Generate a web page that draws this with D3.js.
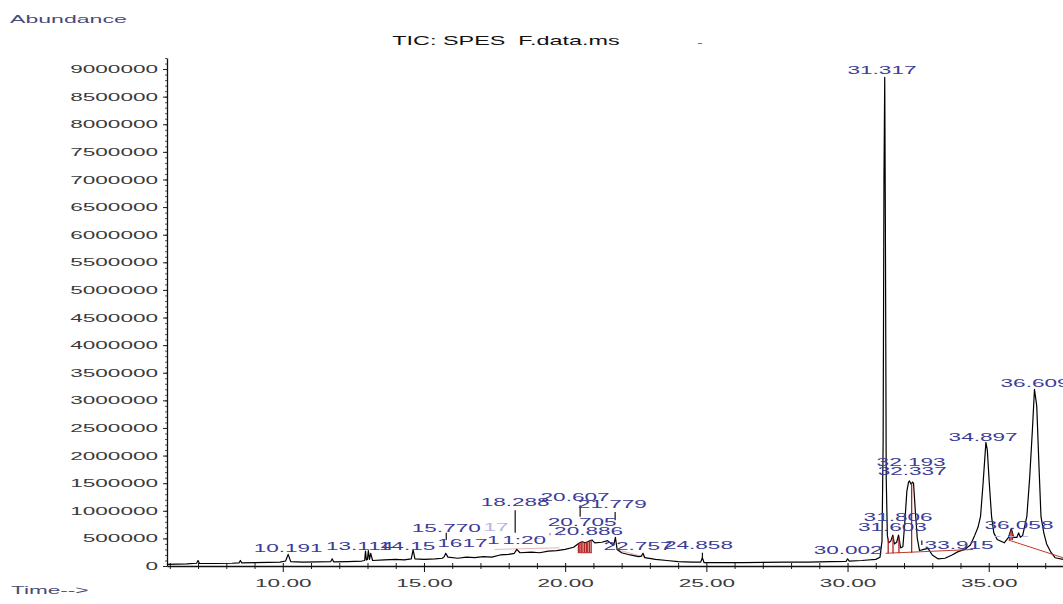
<!DOCTYPE html>
<html>
<head>
<meta charset="utf-8">
<script src="https://cdn.jsdelivr.net/npm/d3@7"></script>
<style>
  body { margin: 0; background: #fff; }
  svg { display: block; }
  text { white-space: pre; }
</style>
</head>
<body>
<svg id="chart" width="1063" height="604"></svg>
<script>

var title = 'TIC: SPES  F.data.ms';
var yTicks = d3.range(0, 9000001, 500000);
var yMinor = d3.range(0, 9200001, 100000);
var xTicks = [10, 15, 20, 25, 30, 35];
var xMinor = d3.range(6, 38).filter(function (d) { return d % 5 !== 0; });

// chromatogram (minutes, abundance)
var traceTime = [
    5.9, 6.6, 6.95, 7.0, 7.05, 7.6, 8.2, 8.45, 8.5, 8.55, 9.0, 9.5, 9.9, 10.1, 10.191, 10.28,
    10.7, 11.2, 11.7, 11.75, 11.8, 12.3, 12.8, 12.9, 12.93, 12.96, 13.0, 13.03, 13.07, 13.114, 13.18,
    13.6, 14.0, 14.3, 14.55, 14.615, 14.68, 15.0, 15.4, 15.65, 15.72, 15.77, 15.85, 16.2, 16.5,
    16.8, 17.1, 17.4, 17.7, 18.0, 18.2, 18.288, 18.4, 18.8, 19.1, 19.4, 19.7, 20.0, 20.3, 20.45,
    20.55, 20.607, 20.7, 20.8, 20.886, 20.95, 21.05, 21.3, 21.5, 21.65, 21.72, 21.779, 21.84, 22.0,
    22.3, 22.6, 22.7, 22.757, 22.82, 23.2, 23.6, 24.0, 24.5, 24.8, 24.858, 24.92, 25.5, 26.3, 27.0,
    27.8, 28.6, 29.4, 29.95, 30.002, 30.06, 30.5, 31.0, 31.15, 31.22, 31.26, 31.29, 31.317, 31.34,
    31.37, 31.41, 31.46, 31.53, 31.603, 31.66, 31.74, 31.806, 31.88, 31.96, 32.03, 32.1, 32.16,
    32.193, 32.25, 32.3, 32.337, 32.4, 32.47, 32.55, 32.7, 32.85, 33.0, 33.2, 33.45, 33.7, 33.915,
    34.15, 34.35, 34.5, 34.62, 34.71, 34.8, 34.9, 34.95, 35.02, 35.1, 35.18, 35.3, 35.55, 35.7,
    35.8, 35.88, 36.0, 36.058, 36.12, 36.2, 36.35, 36.45, 36.55, 36.62, 36.7, 36.78, 36.85, 36.95,
    37.05, 37.2, 37.35, 37.63
];
var traceAbund = [
    30000, 40000, 50000, 100000, 45000, 45000, 50000, 55000, 100000, 55000, 60000, 65000, 70000, 90000, 210000, 80000,
    70000, 75000, 80000, 130000, 75000, 80000, 90000, 100000, 270000, 110000, 120000, 280000, 120000, 230000, 100000,
    110000, 120000, 110000, 130000, 290000, 130000, 120000, 130000, 140000, 170000, 230000, 160000, 140000, 160000,
    150000, 170000, 160000, 200000, 210000, 230000, 300000, 240000, 250000, 240000, 270000, 280000, 300000, 340000, 400000,
    430000, 440000, 420000, 440000, 460000, 470000, 420000, 430000, 460000, 400000, 380000, 520000, 300000, 240000,
    200000, 170000, 180000, 230000, 150000, 120000, 100000, 80000, 70000, 70000, 150000, 60000, 60000, 60000, 65000,
    70000, 70000, 80000, 85000, 130000, 90000, 100000, 120000, 160000, 450000, 2200000, 7000000, 8850000, 6200000,
    1600000, 550000, 420000, 450000, 560000, 400000, 430000, 560000, 330000, 350000, 800000, 1350000, 1520000,
    1540000, 1480000, 1520000, 1500000, 1000000, 500000, 280000, 300000, 320000, 200000, 130000, 140000, 200000, 260000,
    300000, 380000, 550000, 700000, 900000, 1500000, 2240000, 2100000, 1500000, 900000, 600000, 480000, 420000, 520000,
    680000, 520000, 520000, 600000, 520000, 550000, 900000, 1600000, 2500000, 3200000, 2900000, 1800000, 900000, 600000,
    400000, 250000, 150000, 120000
];

// peak labels: text, where it is centred (minutes) and the abundance of its baseline
var labelText = ['10.191', '13.114', '14.15', '15.770', '1617', '1', '1:20', '18.288', '20.607', '21.779',
    '20.705', '20.886', '22.757', '24.858', '30.002', '31.317', '32.193', '32.337', '31.806', '31.603',
    '33.915', '34.897', '36.058', '36.609'];
var labelTime = [10.19, 12.72, 14.4, 15.79, 16.36, 17.45, 18.55, 18.23, 20.35, 21.67,
    20.6, 20.83, 22.58, 24.72, 30.02, 31.22, 32.25, 32.29, 31.79, 31.59,
    33.95, 34.8, 36.07, 36.64];
var labelLevel = [250000, 290000, 290000, 620000, 340000, 390000, 390000, 1090000, 1180000, 1050000,
    720000, 560000, 290000, 310000, 220000, 8910000, 1810000, 1650000, 810000, 630000,
    310000, 2260000, 670000, 3240000];

var faintText = ['17', '- \' \'', '- - -'];
var faintTime = [17.55, 19.4, 35.8];
var faintLevel = [640000, 460000, 490000];

// leader lines from a label down to its peak
var leaderTime = [15.79, 18.23, 20.53, 21.77, 24.86, 32.63];
var leaderTop = [600000, 1010000, 1100000, 980000, 240000, 460000];
var leaderBottom = [470000, 600000, 890000, 830000, 150000, 380000];

// integration marks (red)
var dropTime = [20.47, 20.52, 20.57, 20.63, 20.69, 20.75, 20.8, 20.86, 20.92, 31.44, 31.61, 31.82, 32.27, 35.74, 35.79, 35.84];
var dropBase = [240000, 240000, 240000, 240000, 240000, 240000, 240000, 240000, 240000, 230000, 230000, 235000, 240000, 470000, 470000, 470000];
var baseStart = [[20.45, 240000], [31.35, 230000], [35.7, 470000]];
var baseEnd = [[20.95, 240000], [34.45, 300000], [37.63, 150000]];
var paleStart = [[17.5, 300000], [21.8, 300000]];
var paleEnd = [[19.8, 330000], [22.9, 150000]];

var svg = d3.select('#chart');
var x = d3.scaleLinear().domain([5.9, 37.63]).range([167, 1063]);
var y = d3.scaleLinear().domain([0, 9200000]).range([566, 58]);

var fontFamily = '"Liberation Sans", Arial, sans-serif';
var stretchX = 2.05;

function stretch(sel, sx) {
    sel.each(function () {
        var t = d3.select(this);
        var px = +t.attr('x') || 0, py = +t.attr('y') || 0;
        t.attr('x', null).attr('y', null)
            .attr('transform', 'translate(' + px + ',' + py + ') scale(' + sx + ',1)');
    });
}

function addText(str, px, py, anchor, color, size, sx) {
    svg.append('text')
        .attr('x', px).attr('y', py)
        .attr('text-anchor', anchor)
        .attr('fill', color)
        .style('font-family', fontFamily)
        .style('font-size', size + 'px')
        .text(str)
        .call(stretch, sx);
}

// headings
addText('Abundance', 10, 23, 'start', '#4a4a78', 11, 2.1);
addText('Time-->', 11, 594, 'start', '#4a4a78', 11, 2.05);
addText(title, 506, 45, 'middle', '#111', 12, 1.95);
addText('-', 700, 46, 'middle', '#666', 11, 1.5);

// y axis
svg.append('g').attr('transform', 'translate(167,0)')
    .call(d3.axisLeft(y).tickValues(yMinor).tickSize(2).tickFormat(''))
    .call(function (g) { g.select('.domain').remove(); })
    .selectAll('line').attr('stroke', '#555');

var yAxis = svg.append('g').attr('transform', 'translate(167,0)')
    .call(d3.axisLeft(y).tickValues(yTicks).tickSize(4).tickSizeOuter(0).tickFormat(d3.format('d')));
yAxis.select('.domain').attr('stroke', '#111').attr('stroke-width', 1.3);
yAxis.selectAll('line').attr('stroke', '#222');
yAxis.selectAll('text')
    .attr('x', -9)
    .attr('fill', '#3a3a3a')
    .style('font-family', fontFamily)
    .style('font-size', '11px')
    .call(stretch, stretchX);

// x axis
var xMinorAxis = svg.append('g').attr('transform', 'translate(0,566)')
    .call(d3.axisBottom(x).tickValues(xMinor).tickSize(3).tickFormat(''));
xMinorAxis.select('.domain').remove();
xMinorAxis.selectAll('line').attr('y1', -3).attr('stroke', '#222');

var xAxis = svg.append('g').attr('transform', 'translate(0,566)')
    .call(d3.axisBottom(x).tickValues(xTicks).tickSize(6).tickSizeOuter(0).tickFormat(d3.format('.2f')));
xAxis.select('.domain').attr('stroke', '#111').attr('stroke-width', 1.3);
xAxis.selectAll('line').attr('y1', -3).attr('stroke', '#111');
xAxis.selectAll('text')
    .attr('y', 13)
    .attr('fill', '#3a3a3a')
    .style('font-family', fontFamily)
    .style('font-size', '11px')
    .call(stretch, stretchX);

// pale baseline pieces
svg.append('g').selectAll('line')
    .data(d3.zip(paleStart, paleEnd))
    .join('line')
    .attr('x1', function (d) { return x(d[0][0]); })
    .attr('y1', function (d) { return y(d[0][1]); })
    .attr('x2', function (d) { return x(d[1][0]); })
    .attr('y2', function (d) { return y(d[1][1]); })
    .attr('stroke', '#e7b4b4')
    .attr('stroke-width', 1);

// trace
var line = d3.line()
    .x(function (d) { return x(d[0]); })
    .y(function (d) { return y(d[1]); });

svg.append('path')
    .datum(d3.zip(traceTime, traceAbund))
    .attr('d', line)
    .attr('fill', 'none')
    .attr('stroke', '#000')
    .attr('stroke-width', 1.2)
    .attr('stroke-linejoin', 'round');

function traceAt(t) {
    var i = d3.bisectLeft(traceTime, t);
    if (i <= 0) return traceAbund[0];
    if (i >= traceTime.length) return traceAbund[traceTime.length - 1];
    var t0 = traceTime[i - 1], t1 = traceTime[i];
    return traceAbund[i - 1] + (traceAbund[i] - traceAbund[i - 1]) * (t - t0) / (t1 - t0);
}

// integration baselines and drops
svg.append('g').selectAll('line')
    .data(d3.zip(baseStart, baseEnd))
    .join('line')
    .attr('x1', function (d) { return x(d[0][0]); })
    .attr('y1', function (d) { return y(d[0][1]); })
    .attr('x2', function (d) { return x(d[1][0]); })
    .attr('y2', function (d) { return y(d[1][1]); })
    .attr('stroke', '#c0392b')
    .attr('stroke-width', 1);

svg.append('g').selectAll('line')
    .data(d3.zip(dropTime, dropBase))
    .join('line')
    .attr('x1', function (d) { return x(d[0]); })
    .attr('x2', function (d) { return x(d[0]); })
    .attr('y1', function (d) { return y(traceAt(d[0])); })
    .attr('y2', function (d) { return y(d[1]); })
    .attr('stroke', '#b22222')
    .attr('stroke-width', 1.3);

// leaders
svg.append('g').selectAll('line')
    .data(d3.zip(leaderTime, leaderTop, leaderBottom))
    .join('line')
    .attr('x1', function (d) { return x(d[0]); })
    .attr('x2', function (d) { return x(d[0]); })
    .attr('y1', function (d) { return y(d[1]); })
    .attr('y2', function (d) { return y(d[2]); })
    .attr('stroke', '#111')
    .attr('stroke-width', 1.2);

// peak labels
d3.zip(faintText, faintTime, faintLevel).forEach(function (d) {
    addText(d[0], x(d[1]), y(d[2]), 'middle', '#b9b2e2', 11, stretchX);
});
d3.zip(labelText, labelTime, labelLevel).forEach(function (d) {
    addText(d[0], x(d[1]), y(d[2]), 'middle', '#3b3b98', 11, stretchX);
});

</script>
</body>
</html>
